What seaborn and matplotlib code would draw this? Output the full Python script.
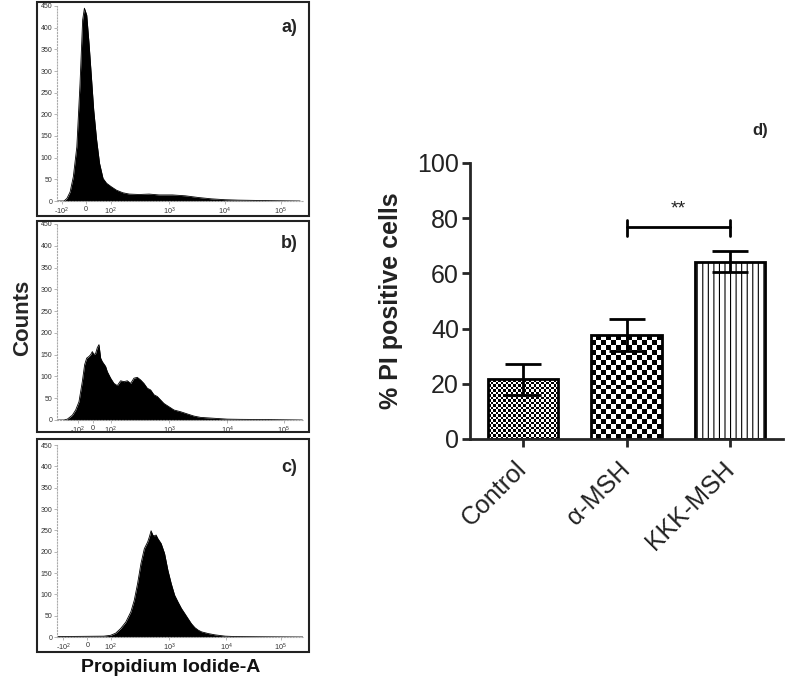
import numpy as np
import matplotlib
matplotlib.use("Agg")
import matplotlib.pyplot as plt
from matplotlib.patches import Rectangle
import seaborn as sns

# --- flow cytometry histograms (x = position on the biexponential axis, in decades) ---
pos_a = [1.08, 1.20, 1.25, 1.305, 1.36, 1.42, 1.475, 1.52, 1.55, 1.59, 1.63, 1.67, 1.71, 1.76, 1.81, 1.87,
         1.93, 2.01, 2.10, 2.21, 2.32, 2.49, 2.66, 2.83, 3.06, 3.28, 3.51, 3.73, 3.96, 4.19, 4.64, 5.25]
cnt_a = [0, 0, 6, 21, 56, 125, 271, 418, 445, 429, 363, 287, 210, 141, 87, 52,
         41, 33, 25, 19, 16, 15, 16, 14, 14, 12, 8, 5, 3, 2, 1, 0]

pos_b = [1.08, 1.20, 1.257, 1.343, 1.40, 1.457, 1.514, 1.554, 1.589, 1.629, 1.657, 1.686, 1.714, 1.743,
         1.771, 1.80, 1.829, 1.857, 1.914, 1.943, 2.0, 2.057, 2.114, 2.171, 2.229, 2.286, 2.343, 2.40,
         2.457, 2.514, 2.571, 2.629, 2.686, 2.743, 2.80, 2.857, 2.914, 2.971, 3.029, 3.086, 3.20, 3.314,
         3.429, 3.543, 3.771, 4.0, 4.229, 4.686, 5.29]
cnt_b = [0, 0, 2, 11, 23, 42, 88, 127, 142, 146, 150, 157, 150, 153,
         166, 173, 142, 134, 123, 111, 96, 84, 79, 90, 88, 90, 84, 96,
         98, 92, 84, 73, 69, 58, 54, 46, 38, 33, 28, 23, 19, 14,
         9, 6, 4, 2, 1.5, 1, 0]

pos_c = [1.08, 1.884, 2.0, 2.087, 2.173, 2.26, 2.347, 2.405, 2.462, 2.52, 2.578, 2.636, 2.665, 2.694,
         2.723, 2.751, 2.78, 2.809, 2.867, 2.925, 2.983, 3.04, 3.098, 3.156, 3.214, 3.272, 3.329, 3.387,
         3.445, 3.503, 3.561, 3.676, 3.792, 3.965, 4.139, 5.30]
cnt_c = [1, 2, 4, 9, 20, 35, 59, 86, 125, 172, 207, 223, 235, 249,
         239, 237, 239, 231, 219, 196, 156, 125, 98, 82, 67, 55, 43, 31,
         22, 16, 12, 8, 5, 2, 1, 0]

tick_labels = [r"-10$^2$", "0", r"10$^2$", r"10$^3$", r"10$^4$", r"10$^5$"]
ticks_a = [1.16, 1.57, 2, 3, 3.96, 4.92]
ticks_b = [1.44, 1.69, 2, 3, 4.0, 4.97]
ticks_c = [1.19, 1.60, 2, 3, 3.98, 4.92]
count_ticks = list(range(0, 451, 50))

# --- bar chart d) ---
groups = ["Control", "\u03b1-MSH", "KKK-MSH"]
means = [21.6, 37.6, 64.3]
errs = [5.7, 5.7, 3.7]
sig_y = 76.7
sig_label = "**"

W, H = 787, 698
sns.set_style("ticks")
plt.rcParams["font.family"] = ["Liberation Sans", "DejaVu Sans"]
plt.rcParams["mathtext.default"] = "regular"
plt.rcParams["hatch.linewidth"] = 0.8

fig = plt.figure(figsize=(W / 100, H / 100), dpi=100)


def box(x0, y0, x1, y1):
    # pixel box (top-left origin) -> figure fraction rect
    return [x0 / W, 1 - y1 / H, (x1 - x0) / W, (y1 - y0) / H]


panels = [
    (pos_a, cnt_a, ticks_a, "a)", (57, 6, 303, 201), (37, 2, 309, 216), 27),
    (pos_b, cnt_b, ticks_b, "b)", (57, 224, 303, 420), (37, 221, 309, 432), 243),
    (pos_c, cnt_c, ticks_c, "c)", (57, 445, 303, 637), (37, 439, 309, 652), 467),
]

for pos, cnt, ticks, lab, area, frame, ly in panels:
    ax = fig.add_axes(box(*area))
    ax.fill_between(pos, cnt, color="black", lw=0)
    sns.lineplot(x=pos, y=cnt, color="black", lw=0.6, ax=ax)
    ax.set_xlim(1.08, 5.3)
    ax.set_ylim(0, 450)
    ax.set_xticks(ticks)
    ax.set_xticklabels(tick_labels)
    ax.set_yticks(count_ticks)
    ax.tick_params(length=2, width=0.5, color="#999999", labelsize=5, labelcolor="#333333", pad=1.5)
    ax.tick_params(axis="x", labelsize=5.2)
    for s in ["top", "right"]:
        ax.spines[s].set_visible(False)
    for s in ["left", "bottom"]:
        ax.spines[s].set_linestyle(":")
        ax.spines[s].set_color("#aaaaaa")
        ax.spines[s].set_linewidth(0.8)
    ax.set_facecolor("none")
    fig.add_artist(Rectangle((frame[0] / W, 1 - frame[3] / H), (frame[2] - frame[0]) / W,
                             (frame[3] - frame[1]) / H, transform=fig.transFigure,
                             fill=False, ec="#222222", lw=1.5))
    fig.text(289 / W, 1 - ly / H, lab, fontsize=13, fontweight="bold", ha="center", va="center")

fig.text(23 / W, 1 - 318 / H, "Counts", rotation=90, fontsize=16, fontweight="bold",
         ha="center", va="center")
fig.text(171 / W, 1 - 668 / H, "Propidium Iodide-A", fontsize=14, fontweight="bold",
         ha="center", va="center", color="#111111")

# --- bar chart ---
axd = fig.add_axes(box(470, 163, 783, 439))
sns.barplot(x=groups, y=means, color="white", edgecolor="black", linewidth=2,
            width=0.68, errorbar=None, ax=axd)
axd.set_xlim(-0.51, 2.51)
axd.set_ylim(0, 100)

fig.canvas.draw()
bars = axd.patches
for bar, cell in zip(bars[:2], [2.5, 5.0]):
    bb = bar.get_window_extent()
    nx = max(int(round(bb.width / cell)), 1)
    ny = max(int(round(bb.height / cell)), 1)
    board = (np.add.outer(np.arange(ny), np.arange(nx)) % 2).astype(float)
    x0, y0 = bar.get_x(), bar.get_y()
    im = axd.imshow(board, cmap="gray_r", vmin=0, vmax=1, origin="lower", aspect="auto",
                    interpolation="nearest",
                    extent=(x0, x0 + bar.get_width(), y0, y0 + bar.get_height()), zorder=0.9)
    im.set_clip_path(bar)
    bar.set_facecolor("none")
bars[2].set_hatch("|||")
axd.set_xlim(-0.51, 2.51)
axd.set_ylim(0, 100)

axd.errorbar(range(len(groups)), means, yerr=errs, fmt="none", ecolor="black",
             elinewidth=2, capsize=13, capthick=2, zorder=5)

# significance bracket between alpha-MSH and KKK-MSH
axd.plot([1, 2], [sig_y, sig_y], color="black", lw=2, clip_on=False)
axd.plot([1, 1], [sig_y - 3, sig_y + 2.6], color="black", lw=2, clip_on=False)
axd.plot([2, 2], [sig_y - 3, sig_y + 2.6], color="black", lw=2, clip_on=False)
axd.text(1.5, sig_y + 3.5, sig_label, ha="center", va="bottom", fontsize=14, color="#222222")

sns.despine(ax=axd)
for s in ["left", "bottom"]:
    axd.spines[s].set_linewidth(2)
axd.set_yticks(range(0, 101, 20))
axd.tick_params(axis="both", length=6, width=2, labelsize=18, labelcolor="#222222", pad=2)
axd.set_xticks(range(len(groups)))
axd.set_xticklabels(groups, rotation=45, ha="right", va="center", rotation_mode="anchor")
axd.tick_params(axis="x", pad=13)
axd.set_ylabel("% PI positive cells", fontsize=18, fontweight="bold", color="#222222")
axd.yaxis.set_label_coords(-0.215, 0.5)
axd.set_xlabel("")

fig.text(760 / W, 1 - 130 / H, "d)", fontsize=12, fontweight="bold", ha="center", va="center")

fig.savefig("out.png", dpi=100)
